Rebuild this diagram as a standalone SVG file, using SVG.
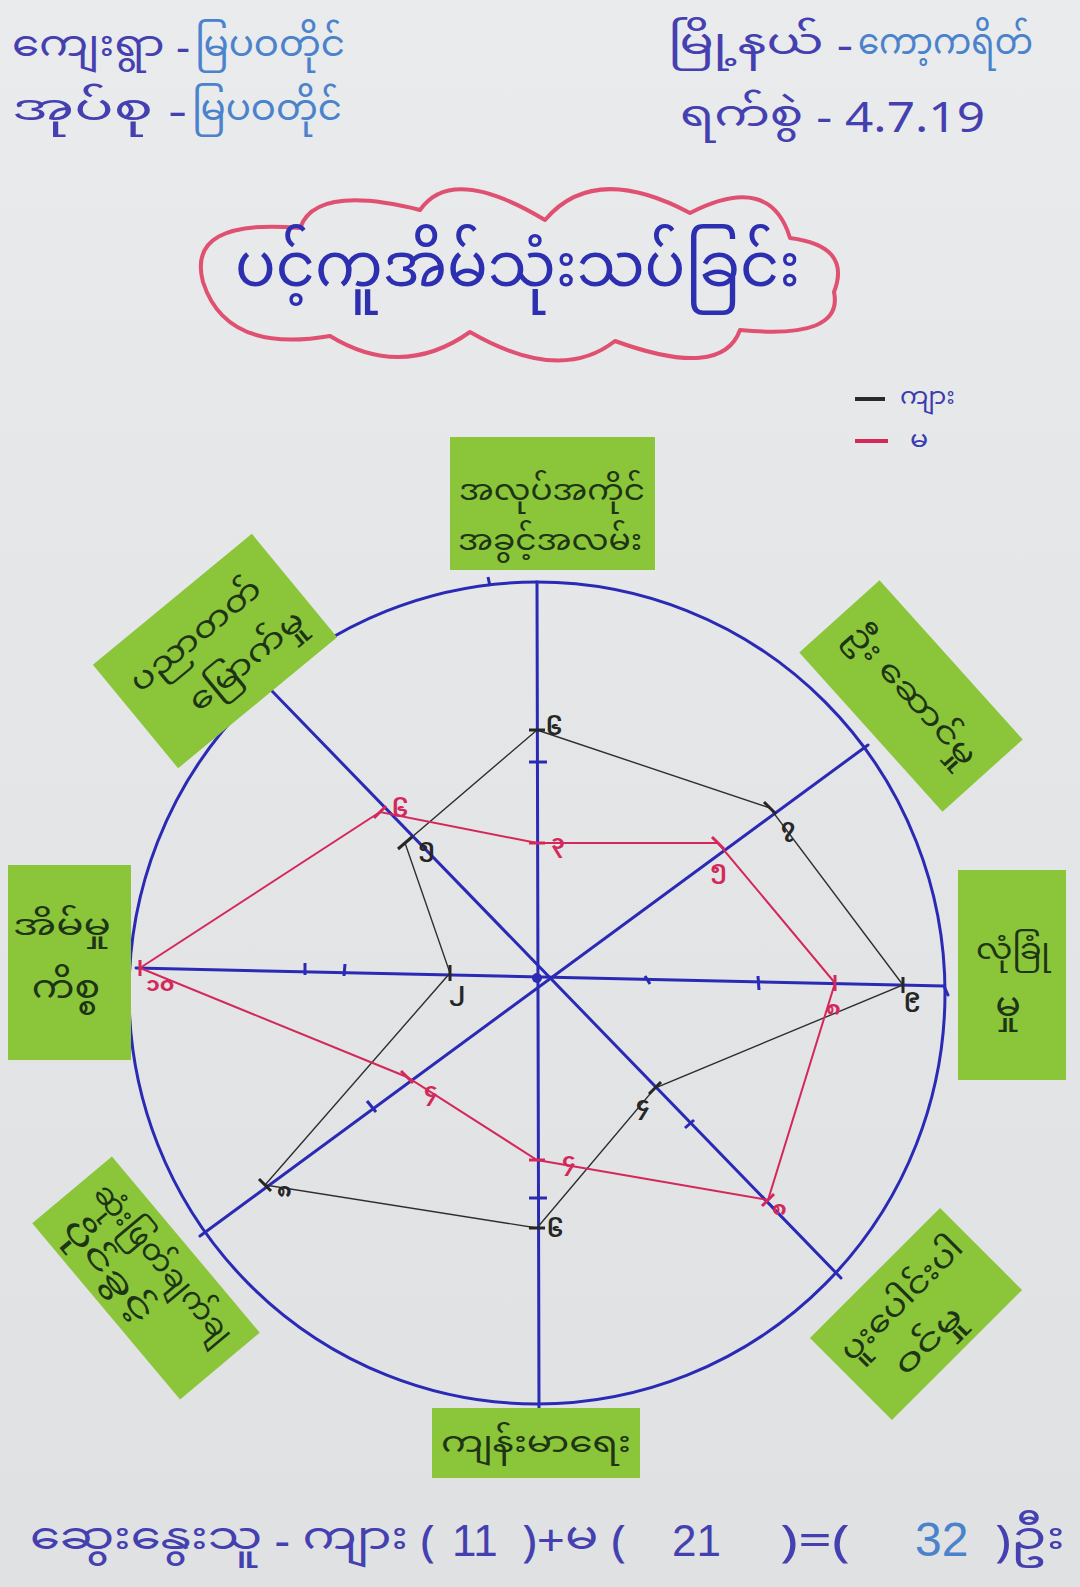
<svg xmlns="http://www.w3.org/2000/svg" width="1080" height="1587" viewBox="0 0 1080 1587">
<defs>
<linearGradient id="paper" x1="0" y1="0" x2="0" y2="1">
<stop offset="0" stop-color="#e9ebed"/>
<stop offset="0.5" stop-color="#e3e5e7"/>
<stop offset="1" stop-color="#dfe1e3"/>
</linearGradient>
<style>
.my{font-family:'Noto Sans Myanmar UI','Noto Sans Myanmar','Padauk','Myanmar Text','Noto Sans',sans-serif;}
.c1{fill:#4540b0;}
.c2{fill:#4a82cc;}
.box{fill:#8bc53a;}
.bt{fill:#1d3514;font-size:33px;text-anchor:middle;}
.axis{stroke:#2a2ab5;stroke-width:3;fill:none;stroke-linecap:round;}
.tick{stroke:#2a2ab5;stroke-width:3;}
.male{stroke:#2e2e2e;stroke-width:1.4;fill:none;}
.fem{stroke:#d4285a;stroke-width:2;fill:none;}
.nm{fill:#262626;font-size:22px;font-weight:bold;}
.nf{fill:#d4285a;font-size:22px;font-weight:bold;}
.mk{stroke:#262626;stroke-width:3;}
.mkf{stroke:#d4285a;stroke-width:3;}
</style>
</defs>
<rect x="0" y="0" width="1080" height="1587" fill="url(#paper)"/>

<g id="header">
<text class="my" font-size="41"><tspan class="c1" x="12" y="62" textLength="178" lengthAdjust="spacingAndGlyphs">ကျေးရွာ -</tspan><tspan class="c2" x="195" y="62" textLength="150" lengthAdjust="spacingAndGlyphs">မြပဝတိုင်</tspan><tspan class="c1" x="12" y="126" textLength="175" lengthAdjust="spacingAndGlyphs">အုပ်စု -</tspan><tspan class="c2" x="192" y="126" textLength="150" lengthAdjust="spacingAndGlyphs">မြပဝတိုင်</tspan></text>
<text class="my" font-size="41"><tspan class="c1" x="668" y="60" textLength="185" lengthAdjust="spacingAndGlyphs">မြို့နယ် -</tspan><tspan class="c2" x="858" y="60" textLength="175" lengthAdjust="spacingAndGlyphs">ကော့ကရိတ်</tspan><tspan class="c1" x="680" y="132" textLength="305" lengthAdjust="spacingAndGlyphs">ရက်စွဲ - 4.7.19</tspan></text>
</g>

<g id="title">
<path d="M203,282 Q186,218 300,228 Q316,184 420,210 Q452,164 545,220 Q594,162 690,213 Q770,172 790,238 Q852,246 834,292 Q844,340 740,330 Q722,380 615,341 Q560,384 470,332 Q402,380 330,336 Q226,354 203,282 Z" fill="none" stroke="#e05070" stroke-width="4" stroke-linejoin="round"/>
<text class="my" x="235" y="296" fill="#2b2fb0" font-size="68" textLength="565" lengthAdjust="spacingAndGlyphs">ပင့်ကူအိမ်သုံးသပ်ခြင်း</text>
</g>

<g id="legend">
<line x1="855" y1="399" x2="885" y2="399" stroke="#2a2a2a" stroke-width="4"/>
<line x1="855" y1="441" x2="888" y2="441" stroke="#d4285a" stroke-width="4"/>
<text class="my" fill="#3b3bb0" font-size="27"><tspan x="900" y="408" textLength="55" lengthAdjust="spacingAndGlyphs">ကျား</tspan><tspan x="910" y="451">မ</tspan></text>
</g>

<g id="wheel">
<ellipse cx="537" cy="993" rx="408" ry="411" class="axis"/>
<line x1="537" y1="582" x2="539" y2="1410" class="axis"/>
<line x1="136" y1="968" x2="944" y2="986" class="axis"/>
<line x1="868" y1="745" x2="200" y2="1236" class="axis"/>
<line x1="272" y1="691" x2="841" y2="1278" class="axis"/>
<line x1="944" y1="986" x2="948" y2="995" class="axis"/>
<line x1="529" y1="762" x2="547" y2="762" class="tick"/>
<line x1="529" y1="1198" x2="547" y2="1198" class="tick"/>
<line x1="488" y1="577" x2="490" y2="586" class="tick"/>
<line x1="305" y1="963" x2="305" y2="975" class="tick"/>
<line x1="345" y1="964" x2="344" y2="976" class="tick"/>
<line x1="645" y1="976" x2="650" y2="984" class="tick"/>
<line x1="758" y1="976" x2="759" y2="990" class="tick"/>
<line x1="367" y1="1101" x2="376" y2="1112" class="tick"/>
<line x1="685" y1="1128" x2="694" y2="1120" class="tick"/>
<circle cx="537" cy="978" r="5" fill="#2a2ab5"/>
</g>

<g id="connectors">
<polygon class="male" points="537,730 770,808 903,985 655,1088 537,1228 265,1185 450,973 405,843"/>
<polygon class="fem" points="537,843 718,843 835,983 768,1200 537,1160 407,1077 140,968 380,812"/>
<g>
<line class="mk" x1="529" y1="730" x2="545" y2="730"/>
<line class="mk" x1="764" y1="802" x2="776" y2="814"/>
<line class="mk" x1="903" y1="977" x2="903" y2="993"/>
<line class="mk" x1="649" y1="1094" x2="661" y2="1082"/>
<line class="mk" x1="529" y1="1228" x2="545" y2="1228"/>
<line class="mk" x1="259" y1="1179" x2="271" y2="1191"/>
<line class="mk" x1="450" y1="965" x2="450" y2="981"/>
<line class="mk" x1="398" y1="849" x2="412" y2="837"/>
<line class="mkf" x1="529" y1="843" x2="545" y2="843"/>
<line class="mkf" x1="712" y1="837" x2="724" y2="849"/>
<line class="mkf" x1="835" y1="975" x2="835" y2="991"/>
<line class="mkf" x1="762" y1="1206" x2="774" y2="1194"/>
<line class="mkf" x1="529" y1="1160" x2="545" y2="1160"/>
<line class="mkf" x1="401" y1="1071" x2="413" y2="1083"/>
<line class="mkf" x1="140" y1="960" x2="140" y2="976"/>
<line class="mkf" x1="374" y1="818" x2="386" y2="806"/>
</g>
</g>

<g id="values">
<text class="my nm" x="546" y="738">၆</text>
<text class="my nm" x="781" y="836">၇</text>
<text class="my nm" x="904" y="1006">၉</text>
<text class="my nm" x="636" y="1114">၄</text>
<text class="my nm" x="547" y="1240">၆</text>
<text class="my nm" x="277" y="1200">၈</text>
<text class="my nm" x="449" y="1000">၂</text>
<text class="my nm" x="418" y="856">၅</text>
<text class="my nf" x="392" y="820">၆</text>
<text class="my nf" x="551" y="852">၃</text>
<text class="my nf" x="710" y="878">၅</text>
<text class="my nf" x="826" y="1018">၈</text>
<text class="my nf" x="772" y="1218">၈</text>
<text class="my nf" x="562" y="1170">၄</text>
<text class="my nf" x="424" y="1100">၄</text>
<text class="my nf" x="146" y="994">၁၀</text>
</g>

<g id="node-job">
<rect class="box" x="450" y="437" width="205" height="133"/>
<text class="my bt"><tspan x="552" y="505" textLength="186" lengthAdjust="spacingAndGlyphs">အလုပ်အကိုင်</tspan><tspan x="550" y="555" textLength="184" lengthAdjust="spacingAndGlyphs">အခွင့်အလမ်း</tspan></text>
</g>

<g id="node-education" transform="translate(215,651) rotate(-39.5)">
<rect class="box" x="-103" y="-67" width="206" height="134"/>
<text class="my bt"><tspan x="-5" y="-10" textLength="160" lengthAdjust="spacingAndGlyphs">ပညာတတ်</tspan><tspan x="18" y="42" textLength="140" lengthAdjust="spacingAndGlyphs">မြောက်မှု</tspan></text>
</g>

<g id="node-leadership" transform="translate(911,696) rotate(48)">
<rect class="box" x="-107" y="-54" width="214" height="108"/>
<text class="my bt" x="0" y="13" font-size="40" textLength="178" lengthAdjust="spacingAndGlyphs">ဦး ဆောင်မှု</text>
</g>

<g id="node-household">
<rect class="box" x="8" y="865" width="123" height="195"/>
<text class="my bt"><tspan x="62" y="940" textLength="98" lengthAdjust="spacingAndGlyphs">အိမ်မှု</tspan><tspan x="66" y="1004" font-size="38">ကိစ္စ</tspan></text>
</g>

<g id="node-security">
<rect class="box" x="958" y="870" width="108" height="210"/>
<text class="my bt"><tspan x="1013" y="964" textLength="74" lengthAdjust="spacingAndGlyphs">လုံခြုံ</tspan><tspan x="1008" y="1022" font-size="38">မှု</tspan></text>
</g>

<g id="node-decision" transform="translate(146,1278) rotate(50)">
<rect class="box" x="-115" y="-52" width="230" height="104"/>
<text class="my bt" font-size="30"><tspan x="0" y="-8" textLength="198" lengthAdjust="spacingAndGlyphs">ဆုံးဖြတ်ချက်ချ</tspan><tspan x="-30" y="38" textLength="125" lengthAdjust="spacingAndGlyphs">ပိုင်ခွင့်</tspan></text>
</g>

<g id="node-participation" transform="translate(916,1314) rotate(-45)">
<rect class="box" x="-92" y="-58" width="184" height="116"/>
<text class="my bt"><tspan x="0" y="-6" textLength="160" lengthAdjust="spacingAndGlyphs">ပူးပေါင်းပါ</tspan><tspan x="-10" y="42" textLength="84" lengthAdjust="spacingAndGlyphs">ဝင်မှု</tspan></text>
</g>

<g id="node-health">
<rect class="box" x="432" y="1408" width="208" height="70"/>
<text class="my bt" x="536" y="1457" font-size="35" textLength="190" lengthAdjust="spacingAndGlyphs">ကျန်းမာရေး</text>
</g>

<g id="footer">
<text class="my" font-size="44"><tspan class="c1" x="30" y="1556" textLength="405" lengthAdjust="spacingAndGlyphs">ဆွေးနွေးသူ - ကျား (</tspan><tspan class="c1" x="452" y="1556" font-family="'Liberation Sans',sans-serif">11</tspan><tspan class="c1" x="522" y="1556" textLength="104" lengthAdjust="spacingAndGlyphs">)+မ (</tspan><tspan class="c1" x="672" y="1556" font-family="'Liberation Sans',sans-serif">21</tspan><tspan class="c1" x="780" y="1556" textLength="70" lengthAdjust="spacingAndGlyphs">)=(</tspan><tspan class="c2" x="915" y="1556" font-size="48" font-family="'Liberation Sans',sans-serif">32</tspan><tspan class="c1" x="995" y="1556" textLength="70" lengthAdjust="spacingAndGlyphs">)ဦး</tspan></text>
</g>
</svg>
